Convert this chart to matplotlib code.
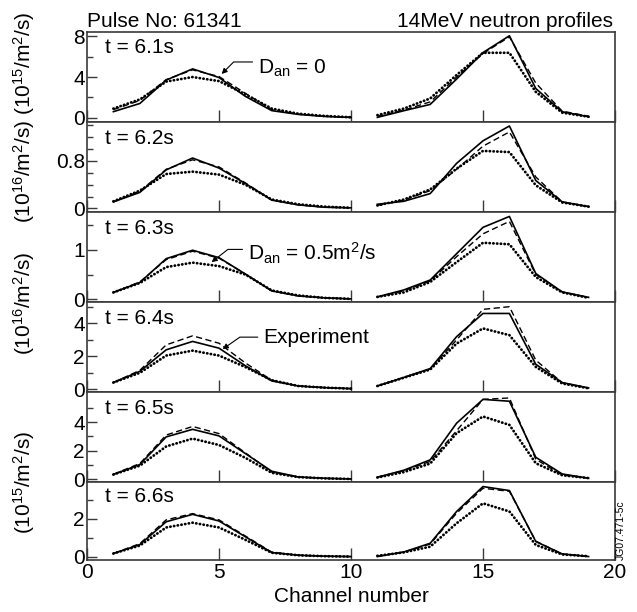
import numpy as np
import matplotlib
matplotlib.use("Agg")
import matplotlib.pyplot as plt

plt.rcParams['font.family'] = ['Liberation Sans', 'DejaVu Sans']
plt.rcParams['mathtext.default'] = 'regular'

# ============ data ============
ch_left = [1, 2, 3, 4, 5, 6, 7, 8, 9, 10]
ch_right = [11, 12, 13, 14, 15, 16, 17, 18, 19]
times = ["t = 6.1s", "t = 6.2s", "t = 6.3s", "t = 6.4s", "t = 6.5s", "t = 6.6s"]

# solid line
solid_61 = [0.6, 1.4, 3.7, 4.8, 3.95, 2.1, 0.7, 0.33, 0.13, 0.03, 0.04, 0.69, 1.31, 3.8, 6.4, 8.05, 2.87, 0.59, 0.1]
solid_62 = [0.11, 0.27, 0.65, 0.85, 0.68, 0.42, 0.14, 0.06, 0.02, 0.01, 0.07, 0.12, 0.25, 0.76, 1.14, 1.39, 0.47, 0.11, 0.03]
solid_63 = [0.14, 0.34, 0.82, 0.99, 0.84, 0.51, 0.17, 0.07, 0.03, 0.01, 0.05, 0.19, 0.39, 0.92, 1.45, 1.67, 0.52, 0.15, 0.04]
solid_64 = [0.41, 1.09, 2.4, 2.91, 2.5, 1.43, 0.51, 0.2, 0.1, 0.04, 0.2, 0.72, 1.26, 3.2, 4.61, 4.61, 1.52, 0.41, 0.08]
solid_65 = [0.33, 1.03, 2.97, 3.5, 3.04, 1.8, 0.56, 0.16, 0.07, 0.02, 0.14, 0.63, 1.36, 3.93, 5.6, 5.47, 1.54, 0.37, 0.07]
solid_66 = [0.18, 0.65, 1.85, 2.24, 1.89, 1.06, 0.23, 0.09, 0.04, 0.02, 0.02, 0.26, 0.72, 2.39, 3.7, 3.49, 0.81, 0.16, 0.02]

# dashed line
dash_61 = [0.8, 1.7, 3.75, 4.7, 4.05, 2.4, 0.8, 0.35, 0.15, 0.05, 0.15, 0.75, 1.56, 4.0, 6.3, 7.95, 3.4, 0.65, 0.15]
dash_62 = [0.11, 0.29, 0.66, 0.82, 0.7, 0.43, 0.14, 0.06, 0.02, 0.01, 0.05, 0.14, 0.3, 0.66, 1.05, 1.29, 0.53, 0.11, 0.03]
dash_63 = [0.14, 0.35, 0.8, 0.97, 0.83, 0.51, 0.17, 0.07, 0.03, 0.01, 0.05, 0.17, 0.37, 0.86, 1.32, 1.57, 0.5, 0.15, 0.04]
dash_64 = [0.41, 1.15, 2.7, 3.25, 2.8, 1.6, 0.55, 0.2, 0.1, 0.04, 0.2, 0.72, 1.23, 3.0, 4.86, 5.02, 1.77, 0.4, 0.08]
dash_65 = [0.35, 1.1, 3.1, 3.7, 3.2, 1.85, 0.5, 0.15, 0.06, 0.02, 0.15, 0.6, 1.25, 3.4, 5.6, 5.7, 1.4, 0.3, 0.08]
dash_66 = [0.18, 0.7, 1.95, 2.28, 1.95, 1.1, 0.25, 0.09, 0.04, 0.02, 0.04, 0.26, 0.68, 2.3, 3.61, 3.45, 0.83, 0.15, 0.03]

# dotted line
dot_61 = [0.9, 1.8, 3.55, 4.0, 3.6, 2.3, 0.9, 0.4, 0.18, 0.05, 0.26, 0.9, 1.9, 4.2, 6.38, 6.38, 2.54, 0.5, 0.1]
dot_62 = [0.12, 0.3, 0.58, 0.62, 0.57, 0.4, 0.15, 0.07, 0.03, 0.01, 0.05, 0.15, 0.32, 0.67, 0.97, 0.95, 0.39, 0.1, 0.03]
dot_63 = [0.14, 0.33, 0.65, 0.74, 0.67, 0.5, 0.18, 0.08, 0.03, 0.01, 0.05, 0.14, 0.35, 0.75, 1.14, 1.11, 0.45, 0.14, 0.03]
dot_64 = [0.41, 1.0, 2.05, 2.35, 2.05, 1.35, 0.55, 0.2, 0.1, 0.04, 0.2, 0.7, 1.2, 2.78, 3.7, 3.29, 1.36, 0.35, 0.06]
dot_65 = [0.33, 0.95, 2.3, 2.85, 2.4, 1.5, 0.45, 0.15, 0.06, 0.02, 0.12, 0.5, 1.1, 3.23, 4.4, 3.81, 1.12, 0.28, 0.08]
dot_66 = [0.18, 0.6, 1.55, 1.8, 1.55, 0.9, 0.22, 0.09, 0.04, 0.02, 0.06, 0.24, 0.54, 1.77, 2.82, 2.39, 0.63, 0.13, 0.04]

solids = [solid_61, solid_62, solid_63, solid_64, solid_65, solid_66]
dashes = [dash_61, dash_62, dash_63, dash_64, dash_65, dash_66]
dots = [dot_61, dot_62, dot_63, dot_64, dot_65, dot_66]

# axis settings per panel
ylims = [(-0.4, 8.45), (-0.06, 1.46), (-0.055, 1.76), (-0.18, 5.3), (-0.22, 6.1), (-0.16, 3.92)]
major_ticks = [[0, 4, 8], [0, 0.8], [0, 1], [0, 2, 4], [0, 2, 4], [0, 2]]
minor_ticks = [[2, 6], [0.2, 0.4, 0.6, 1.0, 1.2, 1.4], [0.5, 1.5], [1, 3, 5], [1, 3, 5], [1, 3]]
major_labels = [["0", "4", "8"], ["0", "0.8"], ["0", "1"], ["0", "2", "4"], ["0", "2", "4"], ["0", "2"]]

frame = '#3a3a3a'
fs = 15

fig, axes = plt.subplots(6, 1, figsize=(6.37, 6.12), dpi=100, sharex=True,
                         gridspec_kw={'height_ratios': [90, 90, 90, 90, 90, 77.5], 'hspace': 0})
fig.subplots_adjust(left=87/637, right=615/637, top=1-31.7/612, bottom=1-560/612)

n = len(ch_left)
for i, ax in enumerate(axes):
    for part, xs in [(slice(0, n), ch_left), (slice(n, None), ch_right)]:
        ax.plot(xs, dots[i][part], color='k', lw=2.0, linestyle=(0, (0.1, 1.25)),
                dash_capstyle='round')
        ax.plot(xs, dashes[i][part], color='k', lw=1.0, linestyle=(0, (4.5, 2.5)))
        ax.plot(xs, solids[i][part], color='k', lw=1.2)
    ax.set_xlim(0, 20)
    ax.set_ylim(*ylims[i])
    ax.set_yticks(major_ticks[i])
    ax.set_yticklabels(major_labels[i])
    ax.set_yticks(minor_ticks[i], minor=True)
    ax.set_xticks([0, 5, 10, 15, 20])
    ax.tick_params(axis='y', which='major', direction='in', length=7, width=1, color=frame,
                   labelsize=fs, pad=1.5)
    ax.tick_params(axis='y', which='minor', direction='in', length=4, width=1, color=frame)
    ax.tick_params(axis='x', direction='in', length=8.5, width=1, color=frame,
                   labelsize=fs, pad=2.5, top=False)
    for s in ax.spines.values():
        s.set_color(frame)
        s.set_linewidth(1.2)
    ax.text(0.035, 0.82, times[i], transform=ax.transAxes, ha='left', va='center', fontsize=fs)

axes[-1].set_xlabel("Channel number", fontsize=fs, labelpad=3)

# arrows with labels
arr = dict(arrowstyle='-|>', color='k', lw=0.8, shrinkA=2, shrinkB=0, mutation_scale=8)
axes[0].annotate(r"$\mathregular{D_{an}}$ = 0", xy=(5.1, 4.3), xytext=(6.48, 4.85),
                 ha='left', va='center', fontsize=fs,
                 arrowprops=dict(arr, relpos=(0, 0.8), connectionstyle='angle,angleA=0,angleB=45,rad=0'))
axes[2].annotate(r"$\mathregular{D_{an}}$ = 0.5m$\mathregular{^2}$/s", xy=(4.72, 0.75), xytext=(6.1, 0.93),
                 ha='left', va='center', fontsize=fs,
                 arrowprops=dict(arr, relpos=(0, 0.65), connectionstyle='angle,angleA=0,angleB=38,rad=0'))
axes[3].annotate("Experiment", xy=(5.14, 2.44), xytext=(6.68, 3.17),
                 ha='left', va='center', fontsize=fs,
                 arrowprops=dict(arr, relpos=(0, 0.5), connectionstyle='angle,angleA=0,angleB=35,rad=0'))

# titles on top
fig.text(87/637, 1-26.7/612, "Pulse No: 61341", ha='left', va='baseline', fontsize=fs)
fig.text(613/637, 1-26.7/612, "14MeV neutron profiles", ha='right', va='baseline', fontsize=fs)

# units on the left
fig.text(24/637, 1-117.5/612, r"(10$^{16}$/m$^{2}$/s) (10$^{15}$/m$^{2}$/s)", rotation=90,
         ha='center', va='center', fontsize=fs)
fig.text(24/637, 1-303/612, r"(10$^{16}$/m$^{2}$/s)", rotation=90,
         ha='center', va='center', fontsize=fs)
fig.text(24/637, 1-482.5/612, r"(10$^{15}$/m$^{2}$/s)", rotation=90,
         ha='center', va='center', fontsize=fs)

fig.text(621/637, 1-560/612, "JG07.471-5c", rotation=90, ha='center', va='bottom', fontsize=7.5)

fig.savefig("out.png", dpi=100)
